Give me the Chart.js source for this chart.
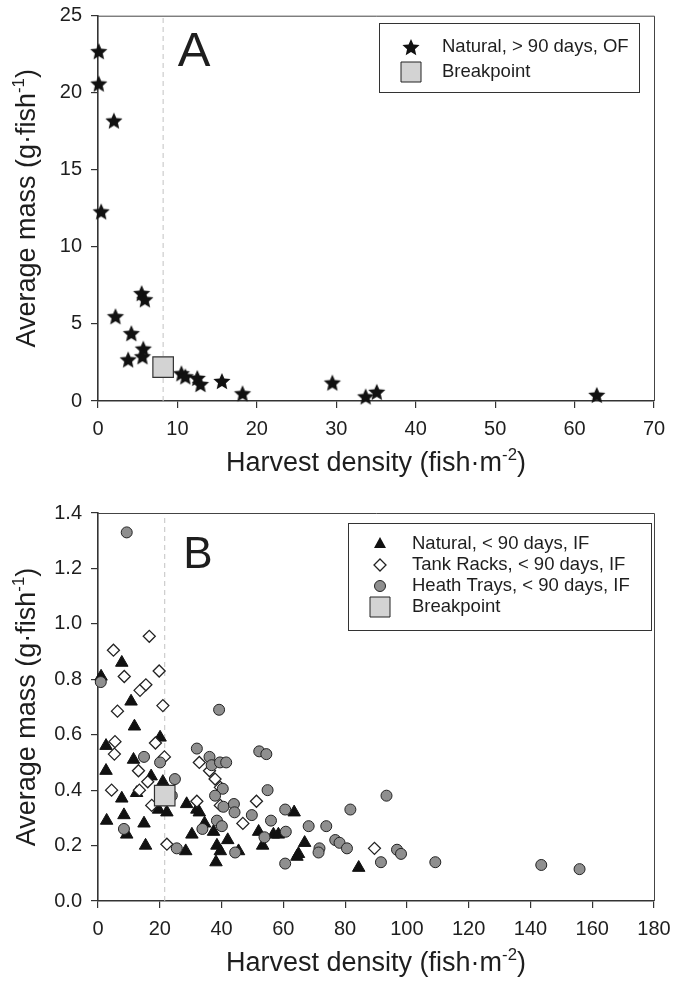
<!DOCTYPE html>
<html>
<head>
<meta charset="utf-8">
<script src="https://cdn.jsdelivr.net/npm/chart.js@4.4.0/dist/chart.umd.min.js"></script>
<style>
  body { margin: 0; background: #fff; }
  .panel { position: relative; width: 673px; height: 495px; }
</style>
</head>
<body>
<div class="panel"><canvas id="chartA" width="673" height="495"></canvas></div>
<div class="panel"><canvas id="chartB" width="673" height="495"></canvas></div>
<script>
// Panel A: natural sites, > 90 days, OF
const densityA = [0.1, 0.1, 2.0, 0.4, 5.5, 5.9, 2.2, 4.2, 5.7, 5.6, 3.8, 10.5, 11.0, 12.5, 12.9, 15.6, 18.2, 29.5, 33.7, 35.1, 62.8];
const massA    = [22.7, 20.6, 18.2, 12.3, 7.0, 6.6, 5.5, 4.4, 3.4, 2.9, 2.7, 1.8, 1.6, 1.5, 1.1, 1.3, 0.5, 1.2, 0.3, 0.6, 0.4];
const breakA = [8.2, 2.2];
const xTicksA = [0, 10, 20, 30, 40, 50, 60, 70];
const yTicksA = [0, 5, 10, 15, 20, 25];

// Panel B: < 90 days, IF
const naturalX = [1.0, 7.7, 10.7, 11.8, 2.6, 20.1, 11.5, 2.6, 17.2, 21.0, 7.7, 12.5, 8.4, 2.8, 9.3, 14.9, 15.4, 19.6, 22.3, 28.7,
                  32.0, 32.8, 30.4, 28.4, 34.5, 37.4, 38.5, 39.6, 38.2, 42.0, 45.5, 63.5, 52.0, 56.8, 58.4, 53.3, 66.9, 64.9, 64.4, 84.4];
const naturalY = [0.81, 0.86, 0.72, 0.63, 0.56, 0.59, 0.51, 0.47, 0.45, 0.43, 0.37, 0.39, 0.31, 0.29, 0.24, 0.28, 0.20, 0.33, 0.32, 0.35,
                  0.33, 0.32, 0.24, 0.18, 0.28, 0.25, 0.20, 0.18, 0.14, 0.22, 0.18, 0.32, 0.25, 0.24, 0.24, 0.20, 0.21, 0.17, 0.16, 0.12];
const tankX = [16.6, 5.0, 8.5, 19.8, 13.6, 15.5, 6.3, 21.0, 5.5, 5.3, 18.6, 21.5, 13.1, 16.1, 4.4, 13.4, 17.4, 32.0, 32.8, 36.1,
               37.9, 39.6, 39.6, 22.3, 46.9, 51.3, 89.5];
const tankY = [0.955, 0.905, 0.81, 0.83, 0.76, 0.78, 0.685, 0.705, 0.575, 0.53, 0.57, 0.52, 0.47, 0.43, 0.40, 0.40, 0.345, 0.36, 0.50, 0.47,
               0.44, 0.41, 0.345, 0.205, 0.28, 0.36, 0.19];
const heathX = [9.3, 0.9, 39.2, 32.0, 14.9, 20.1, 36.1, 36.8, 39.5, 41.5, 52.2, 54.5, 54.9, 24.9, 23.9, 40.4, 37.9, 40.6, 44.0, 44.2,
                49.8, 38.5, 40.1, 33.8, 56.0, 60.6, 60.8, 53.9, 44.4, 60.6, 68.2, 73.9, 71.7, 71.4, 76.8, 78.2, 80.6, 81.7, 93.4, 91.6,
                96.8, 98.1, 109.2, 143.5, 155.9, 8.4, 25.5];
const heathY = [1.33, 0.79, 0.69, 0.55, 0.52, 0.50, 0.52, 0.49, 0.50, 0.50, 0.54, 0.53, 0.40, 0.44, 0.38, 0.405, 0.38, 0.34, 0.35, 0.32,
                0.31, 0.29, 0.27, 0.26, 0.29, 0.33, 0.25, 0.23, 0.175, 0.135, 0.27, 0.27, 0.19, 0.175, 0.22, 0.21, 0.19, 0.33, 0.38, 0.14,
                0.185, 0.17, 0.14, 0.13, 0.115, 0.26, 0.19];
const breakB = [21.6, 0.38];
const xTicksB = [0, 20, 40, 60, 80, 100, 120, 140, 160, 180];
const yTicksB = [0, 0.2, 0.4, 0.6, 0.8, 1.0, 1.2, 1.4];

const fontFam = "'Liberation Sans', Arial, sans-serif";
const ink = '#1e1e1e';

const pts = (xs, ys) => xs.map((x, i) => ({ x, y: ys[i] }));

// filled five point star, used as point style
function makeStar(r) {
  const c = document.createElement('canvas');
  const s = Math.ceil(r * 2 + 2);
  c.width = s; c.height = s;
  const g = c.getContext('2d');
  g.translate(s / 2, s / 2 + r * 0.1);
  g.beginPath();
  for (let i = 0; i < 10; i++) {
    const rr = i % 2 ? r * 0.46 : r;
    const a = -Math.PI / 2 + i * Math.PI / 5;
    g.lineTo(rr * Math.cos(a), rr * Math.sin(a));
  }
  g.closePath();
  g.fillStyle = '#111';
  g.fill();
  return c;
}
const starImg = makeStar(9);

function drawMarker(ctx, kind, x, y) {
  ctx.save();
  ctx.lineWidth = 1;
  ctx.strokeStyle = '#222';
  ctx.beginPath();
  if (kind === 'star') {
    ctx.drawImage(starImg, x - starImg.width / 2, y - starImg.height / 2);
  } else if (kind === 'triangle') {
    ctx.moveTo(x, y - 7); ctx.lineTo(x + 6, y + 4); ctx.lineTo(x - 6, y + 4); ctx.closePath();
    ctx.fillStyle = '#111'; ctx.fill();
  } else if (kind === 'diamond') {
    ctx.moveTo(x, y - 6); ctx.lineTo(x + 6, y); ctx.lineTo(x, y + 6); ctx.lineTo(x - 6, y); ctx.closePath();
    ctx.fillStyle = '#fff'; ctx.fill(); ctx.lineWidth = 1.3; ctx.stroke();
  } else if (kind === 'circle') {
    ctx.arc(x, y, 5.5, 0, Math.PI * 2);
    ctx.fillStyle = '#8f8f8f'; ctx.fill(); ctx.stroke();
  } else if (kind === 'square') {
    ctx.rect(x - 10, y - 10, 20, 20);
    ctx.fillStyle = '#d3d3d3'; ctx.fill(); ctx.stroke();
  }
  ctx.restore();
}

// text with one superscript part
function drawRich(ctx, parts, size) {
  let w = 0;
  parts.forEach(p => {
    ctx.font = (p[1] ? size * 0.62 : size) + 'px ' + fontFam;
    w += ctx.measureText(p[0]).width;
  });
  let x = -w / 2;
  parts.forEach(p => {
    ctx.font = (p[1] ? size * 0.62 : size) + 'px ' + fontFam;
    ctx.fillText(p[0], x, p[1] ? -size * 0.4 : 0);
    x += ctx.measureText(p[0]).width;
  });
}

const decorPlugin = {
  id: 'decor',
  afterDraw(chart, args, opts) {
    const { ctx, chartArea: a } = chart;
    ctx.save();
    // top and right frame
    ctx.strokeStyle = '#444';
    ctx.lineWidth = 1;
    ctx.beginPath();
    ctx.moveTo(a.left, a.top + 0.5); ctx.lineTo(a.right + 0.5, a.top + 0.5); ctx.lineTo(a.right + 0.5, a.bottom);
    ctx.stroke();

    ctx.fillStyle = ink;
    ctx.textBaseline = 'alphabetic';
    // panel letter
    ctx.font = opts.letterSize + 'px ' + fontFam;
    ctx.textAlign = 'center';
    ctx.fillText(opts.letter, opts.letterX, opts.letterY);

    // axis titles
    ctx.textAlign = 'left';
    ctx.save();
    ctx.translate((a.left + a.right) / 2, a.bottom + 70);
    drawRich(ctx, [['Harvest density (fish\u00b7m', false], ['-2', true], [')', false]], 27);
    ctx.restore();
    ctx.save();
    ctx.translate(35, (a.top + a.bottom) / 2);
    ctx.rotate(-Math.PI / 2);
    drawRich(ctx, [['Average mass (g\u00b7fish', false], ['-1', true], [')', false]], 27);
    ctx.restore();

    // legend box
    const L = opts.legend;
    ctx.strokeStyle = '#333';
    ctx.lineWidth = 1;
    ctx.strokeRect(L.x + 0.5, L.y + 0.5, L.w, L.h);
    ctx.font = '18.5px ' + fontFam;
    ctx.textBaseline = 'middle';
    L.items.forEach((it, i) => {
      const y = L.y + L.first + i * L.step;
      drawMarker(ctx, it[0], L.x + L.mx, y);
      ctx.fillStyle = ink;
      ctx.fillText(it[1], L.x + L.tx, y);
    });
    ctx.restore();
  }
};

function axis(ticks, fmt, size) {
  return {
    type: 'linear',
    min: ticks[0],
    max: ticks[ticks.length - 1],
    afterBuildTicks: s => { s.ticks = ticks.map(v => ({ value: v })); },
    afterFit: s => {
      if (s.isHorizontal()) { s.height = size; s.paddingLeft = 0; s.paddingRight = 0; }
      else { s.width = size; s.paddingTop = 0; s.paddingBottom = 0; }
    },
    grid: { drawOnChartArea: false, drawTicks: true, tickLength: 7, color: '#333', lineWidth: 1.2 },
    border: { display: true, color: '#333', width: 1.6 },
    ticks: { color: ink, font: { family: fontFam, size: 20 }, padding: 9, maxRotation: 0, autoSkip: false, callback: fmt }
  };
}

function vline(x, y0, y1) {
  return {
    data: [{ x, y: y0 }, { x, y: y1 }],
    showLine: true, borderColor: '#c2c2c2', borderWidth: 1, borderDash: [5, 4],
    pointRadius: 0, order: 10
  };
}

function breakpoint(p) {
  return {
    data: [{ x: p[0], y: p[1] }],
    pointStyle: 'rect', pointRadius: 14.5, backgroundColor: '#d3d3d3',
    borderColor: '#333', borderWidth: 1.2, order: 1, clip: false
  };
}

function makeChart(id, datasets, xTicks, yTicks, yFmt, padTop, xH, decor) {
  return new Chart(document.getElementById(id), {
    type: 'scatter',
    data: { datasets },
    options: {
      responsive: false,
      animation: false,
      events: [],
      layout: { padding: { top: padTop, right: 19, left: 0, bottom: 0 } },
      scales: {
        x: axis(xTicks, v => v, xH),
        y: axis(yTicks, yFmt, 98)
      },
      plugins: { legend: { display: false }, tooltip: { enabled: false }, decor }
    },
    plugins: [decorPlugin]
  });
}

makeChart('chartA', [
  breakpoint(breakA),
  { data: pts(densityA, massA), pointStyle: starImg, pointRadius: 9, order: 2, clip: false },
  vline(breakA[0], yTicksA[0], yTicksA[yTicksA.length - 1])
], xTicksA, yTicksA, v => v, 13, 94, {
  letter: 'A', letterSize: 49, letterX: 194, letterY: 66,
  legend: { x: 379, y: 23, w: 260, h: 69, first: 24, step: 25, mx: 32, tx: 63,
    items: [['star', 'Natural, > 90 days, OF'], ['square', 'Breakpoint']] }
});

makeChart('chartB', [
  breakpoint(breakB),
  { data: pts(heathX, heathY), pointStyle: 'circle', pointRadius: 5.5, backgroundColor: '#8f8f8f', borderColor: '#222', borderWidth: 1, order: 2, clip: false },
  { data: pts(tankX, tankY), pointStyle: 'rectRot', pointRadius: 6, backgroundColor: '#fff', borderColor: '#222', borderWidth: 1.3, order: 3, clip: false },
  { data: pts(naturalX, naturalY), pointStyle: 'triangle', pointRadius: 7.2, backgroundColor: '#111', borderColor: '#111', borderWidth: 1, order: 4, clip: false },
  vline(breakB[0], yTicksB[0], yTicksB[yTicksB.length - 1])
], xTicksB, yTicksB, v => v.toFixed(1), 18, 89, {
  letter: 'B', letterSize: 44, letterX: 198, letterY: 73,
  legend: { x: 348, y: 28, w: 303, h: 107, first: 21, step: 21, mx: 32, tx: 64,
    items: [['triangle', 'Natural, < 90 days, IF'], ['diamond', 'Tank Racks, < 90 days, IF'],
            ['circle', 'Heath Trays, < 90 days, IF'], ['square', 'Breakpoint']] }
});
</script>
</body>
</html>
